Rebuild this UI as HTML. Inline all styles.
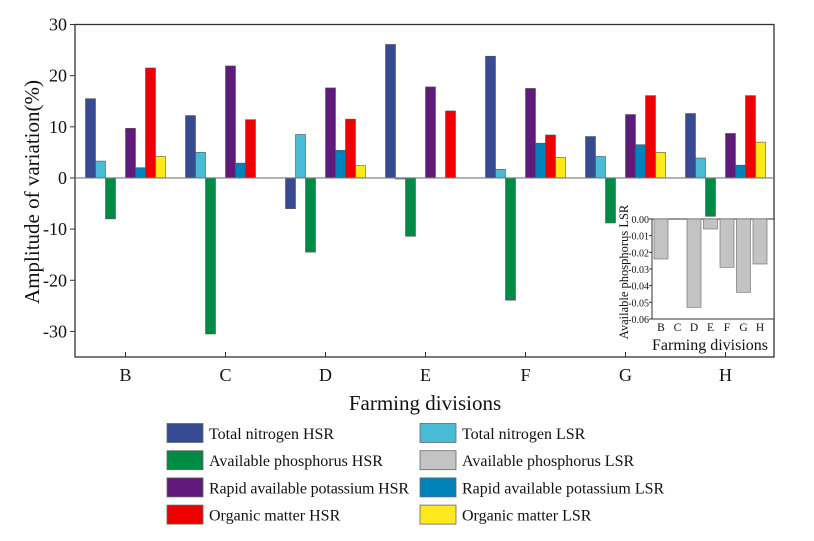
<!DOCTYPE html>
<html><head><meta charset="utf-8"><style>
html,body{margin:0;padding:0;background:#fff;}
svg text{font-family:"Liberation Serif",serif;fill:#111;}
</style></head><body>
<svg id="chart" width="814" height="536" viewBox="0 0 814 536" xmlns="http://www.w3.org/2000/svg">
<g id="main"></g><g id="inset"></g><g id="legend"></g>
</svg>
<script>
const categories = ["B","C","D","E","F","G","H"];
const seriesNames = ["Total nitrogen HSR","Total nitrogen LSR","Available phosphorus HSR","Available phosphorus LSR","Rapid available potassium HSR","Rapid available potassium LSR","Organic matter HSR","Organic matter LSR"];
const seriesColors = ["#374a94","#48bcd6","#008b45","#c3c3c3","#601a7b","#0083b8","#ee0000","#ffe91c"];
const tnHSR = [15.5,12.2,-6,26.1,23.8,8.1,12.6];
const tnLSR = [3.3,5,8.5,-0.2,1.7,4.2,3.9];
const apHSR = [-8,-30.5,-14.5,-11.4,-23.9,-8.8,-7.5];
const apLSRmain = [0,0,0,0,0,0,0];
const rakHSR = [9.7,21.9,17.6,17.8,17.5,12.4,8.7];
const rakLSR = [2,2.9,5.4,0,6.8,6.5,2.5];
const omHSR = [21.5,11.4,11.5,13.1,8.4,16.1,16.1];
const omLSR = [4.2,0,2.4,0,4,5,7];
const yTicks = [30,20,10,0,-10,-20,-30];
const insetValues = [-0.024,0,-0.053,-0.006,-0.029,-0.044,-0.027];
const insetTicks = [0,-0.01,-0.02,-0.03,-0.04,-0.05,-0.06];
const insetTickLabels = ["0.00","-0.01","-0.02","-0.03","-0.04","-0.05","-0.06"];

const NS="http://www.w3.org/2000/svg";
function mk(parent,tag,attrs,text){const e=document.createElementNS(NS,tag);for(const k in attrs)e.setAttribute(k,attrs[k]);if(text!==undefined)e.textContent=text;parent.appendChild(e);return e;}
const allSeries=[tnHSR,tnLSR,apHSR,apLSRmain,rakHSR,rakLSR,omHSR,omLSR];
const L=75,R=774,T=24.5,B=357,yMin=-35,yMax=30;
const y=v=>T+(yMax-v)/(yMax-yMin)*(B-T);
const x=i=>125.5+i*100;
const main=document.getElementById('main');
const frame=mk(main,'rect',{x:L,y:T,width:R-L,height:B-T,fill:'none',stroke:'#333','stroke-width':1.3});

yTicks.forEach(t=>{
  const l=mk(main,'line',{x1:L-5,x2:L,y1:y(t),y2:y(t),stroke:'#333'});
  
  const tx=mk(main,'text',{x:L-8,y:y(t)+6,'text-anchor':'end','font-size':18},String(t));
  
});
categories.forEach((c,i)=>{
  const l=mk(main,'line',{x1:x(i),x2:x(i),y1:B,y2:B-5,stroke:'#333'});
  
  const tx=mk(main,'text',{x:x(i),y:B+24,'text-anchor':'middle','font-size':18},c);
  
});
allSeries.forEach((s,k)=>{
  s.forEach((v,i)=>{
    if(v===0)return;
    const bx=x(i)-40+k*10;
    const r=mk(main,'rect',{x:bx,y:Math.min(y(v),y(0)),width:10,height:Math.abs(y(v)-y(0)),fill:seriesColors[k],stroke:'#555','stroke-width':0.6});
    
    
  });
});
const zl=mk(main,'line',{x1:L,x2:R,y1:y(0),y2:y(0),stroke:'#777','stroke-width':1.2});

const yt=mk(main,'text',{x:0,y:0,'text-anchor':'middle','font-size':21,transform:`translate(39,192) rotate(-90)`},'Amplitude of variation(%)');

const xt=mk(main,'text',{x:425,y:410,'text-anchor':'middle','font-size':21},'Farming divisions');


// inset
const ins=document.getElementById('inset');
const iL=652,iR=774,iT=219,iB=319;
const iy=v=>iT+(0-v)/0.06*(iB-iT);
const ix=i=>661+i*16.5;
const ibg=mk(ins,'rect',{x:iL,y:iT,width:iR-iL,height:iB-iT,fill:'#fff',stroke:'#333','stroke-width':1});

insetTicks.forEach((t,j)=>{
  const l=mk(ins,'line',{x1:iL-3,x2:iL,y1:iy(t),y2:iy(t),stroke:'#333'});
  
  const tx=mk(ins,'text',{x:iL-3,y:iy(t)+4,'text-anchor':'end','font-size':10},insetTickLabels[j]);
  
});
insetValues.forEach((v,i)=>{
  if(v!==0){
    const r=mk(ins,'rect',{x:ix(i)-7,y:iy(0),width:14,height:iy(v)-iy(0),fill:'#c3c3c3',stroke:'#666','stroke-width':0.6});
    
    
  }
  const tx=mk(ins,'text',{x:ix(i),y:iB+12,'text-anchor':'middle','font-size':11.5},categories[i]);
  
});
const iyt=mk(ins,'text',{x:0,y:0,'text-anchor':'middle','font-size':12.5,transform:`translate(628,272) rotate(-90)`},'Available phosphorus LSR');

const ixt=mk(ins,'text',{x:710,y:350,'text-anchor':'middle','font-size':16},'Farming divisions');


// legend
const leg=document.getElementById('legend');
const order=[0,1,2,3,4,5,6,7];
order.forEach((k,n)=>{
  const col=n%2,row=Math.floor(n/2);
  const sx=col?420:167,cy=433+row*27.2;
  const g=mk(leg,'g',{});
  
  mk(g,'rect',{x:sx,y:cy-9.5,width:36,height:19,fill:seriesColors[k],stroke:'#666','stroke-width':0.8});
  mk(g,'text',{x:sx+42,y:cy+6,'font-size':16,textLength:col===0&&k===4?200:undefined},seriesNames[k]);
});
</script>
</body></html>
